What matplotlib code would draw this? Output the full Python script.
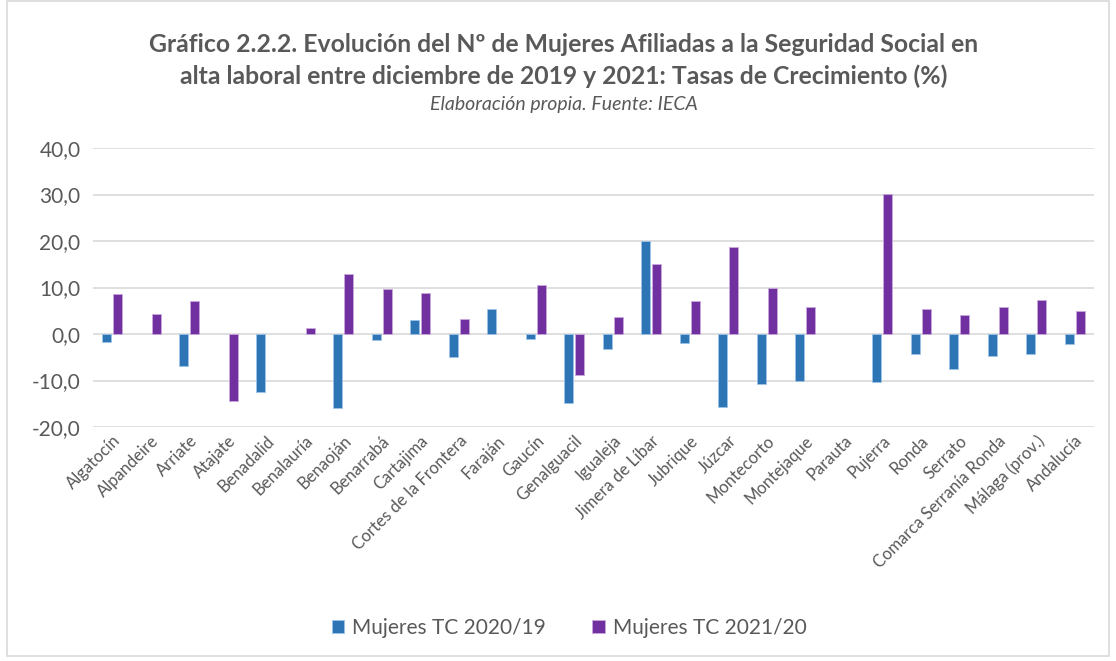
import numpy as np
import matplotlib
matplotlib.use("Agg")
import matplotlib.pyplot as plt
from matplotlib.patches import Rectangle

plt.rcParams['font.family'] = ['Lato', 'DejaVu Sans']

# datos
municipios = ["Algatocín", "Alpandeire", "Arriate", "Atajate", "Benadalid", "Benalauría",
              "Benaoján", "Benarrabá", "Cartajima", "Cortes de la Frontera", "Faraján",
              "Gaucín", "Genalguacil", "Igualeja", "Jimera de Líbar", "Jubrique", "Júzcar",
              "Montecorto", "Montejaque", "Parauta", "Pujerra", "Ronda", "Serrato",
              "Comarca Serranía Ronda", "Málaga (prov.)", "Andalucía"]
tc_2020_19 = [-1.7, 0.0, -6.8, 0.0, -12.5, 0.0, -15.9, -1.2, 3.0, -5.0, 5.3,
              -1.1, -14.9, -3.2, 20.0, -2.0, -15.8, -10.8, -10.1, 0.0, -10.4,
              -4.2, -7.6, -4.7, -4.2, -2.2]
tc_2021_20 = [8.6, 4.4, 7.1, -14.3, 0.0, 1.3, 12.9, 9.7, 8.8, 3.2, 0.0,
              10.6, -8.8, 3.7, 15.0, 7.1, 18.7, 9.9, 5.9, 0.0, 30.2,
              5.3, 4.1, 5.8, 7.3, 4.9]
yticks = [-20, -10, 0, 10, 20, 30, 40]

fig = plt.figure(figsize=(11.16, 6.61), dpi=100)
ax = fig.add_axes([0.0833, 0.354, 0.897, 0.422])

x = np.arange(len(municipios))
w = 0.226
# sin borde en las barras de valor 0
ec1 = ['none' if v == 0 else '#9DC3E6' for v in tc_2020_19]
ec2 = ['none' if v == 0 else '#C9A8DD' for v in tc_2021_20]
ax.bar(x - 0.143, tc_2020_19, w, color='#2E75B6', edgecolor=ec1, linewidth=0.6,
       label='Mujeres TC 2020/19', zorder=3)
ax.bar(x + 0.143, tc_2021_20, w, color='#7030A0', edgecolor=ec2, linewidth=0.6,
       label='Mujeres TC 2021/20', zorder=3)

ax.set_xlim(-0.5, len(municipios) - 0.5)
ax.set_ylim(-20, 40)
ax.set_yticks(yticks)
ax.set_yticklabels([f"{v:.1f}".replace('.', ',') for v in yticks], fontsize=15, color='#595959')
ax.set_xticks(x)
ax.set_xticklabels(municipios, rotation=45, ha='right', rotation_mode='anchor',
                   fontsize=12, color='#595959')
ax.tick_params(length=0, axis='both')
ax.tick_params(axis='y', pad=9)
ax.tick_params(axis='x', pad=4)
ax.grid(axis='y', color='#D9D9D9', linewidth=1.2, zorder=0)
for s in ax.spines.values():
    s.set_visible(False)

# titulo
fig.text(0.505, 0.932, "Gráfico 2.2.2. Evolución del Nº de Mujeres Afiliadas a la Seguridad Social en",
         ha='center', va='center', fontsize=17.8, fontweight='bold', color='#595959')
fig.text(0.505, 0.885, "alta laboral entre diciembre de 2019 y 2021: Tasas de Crecimiento (%)",
         ha='center', va='center', fontsize=17.8, fontweight='bold', color='#595959')
fig.text(0.505, 0.842, "Elaboración propia. Fuente: IECA", ha='center', va='center',
         fontsize=14, style='italic', color='#595959')

leg = fig.legend(loc='center', bbox_to_anchor=(0.51, 0.05), ncol=2, frameon=False,
                 fontsize=15, handlelength=0.6, handleheight=0.6, columnspacing=2.2,
                 handletextpad=0.4)
for t in leg.get_texts():
    t.set_color('#595959')

# borde del grafico
fig.patches.append(Rectangle((0.006, 0.008), 0.988, 0.99, transform=fig.transFigure,
                             fill=False, edgecolor='#D9D9D9', linewidth=1.2))

plt.savefig('out.png', dpi=100)
